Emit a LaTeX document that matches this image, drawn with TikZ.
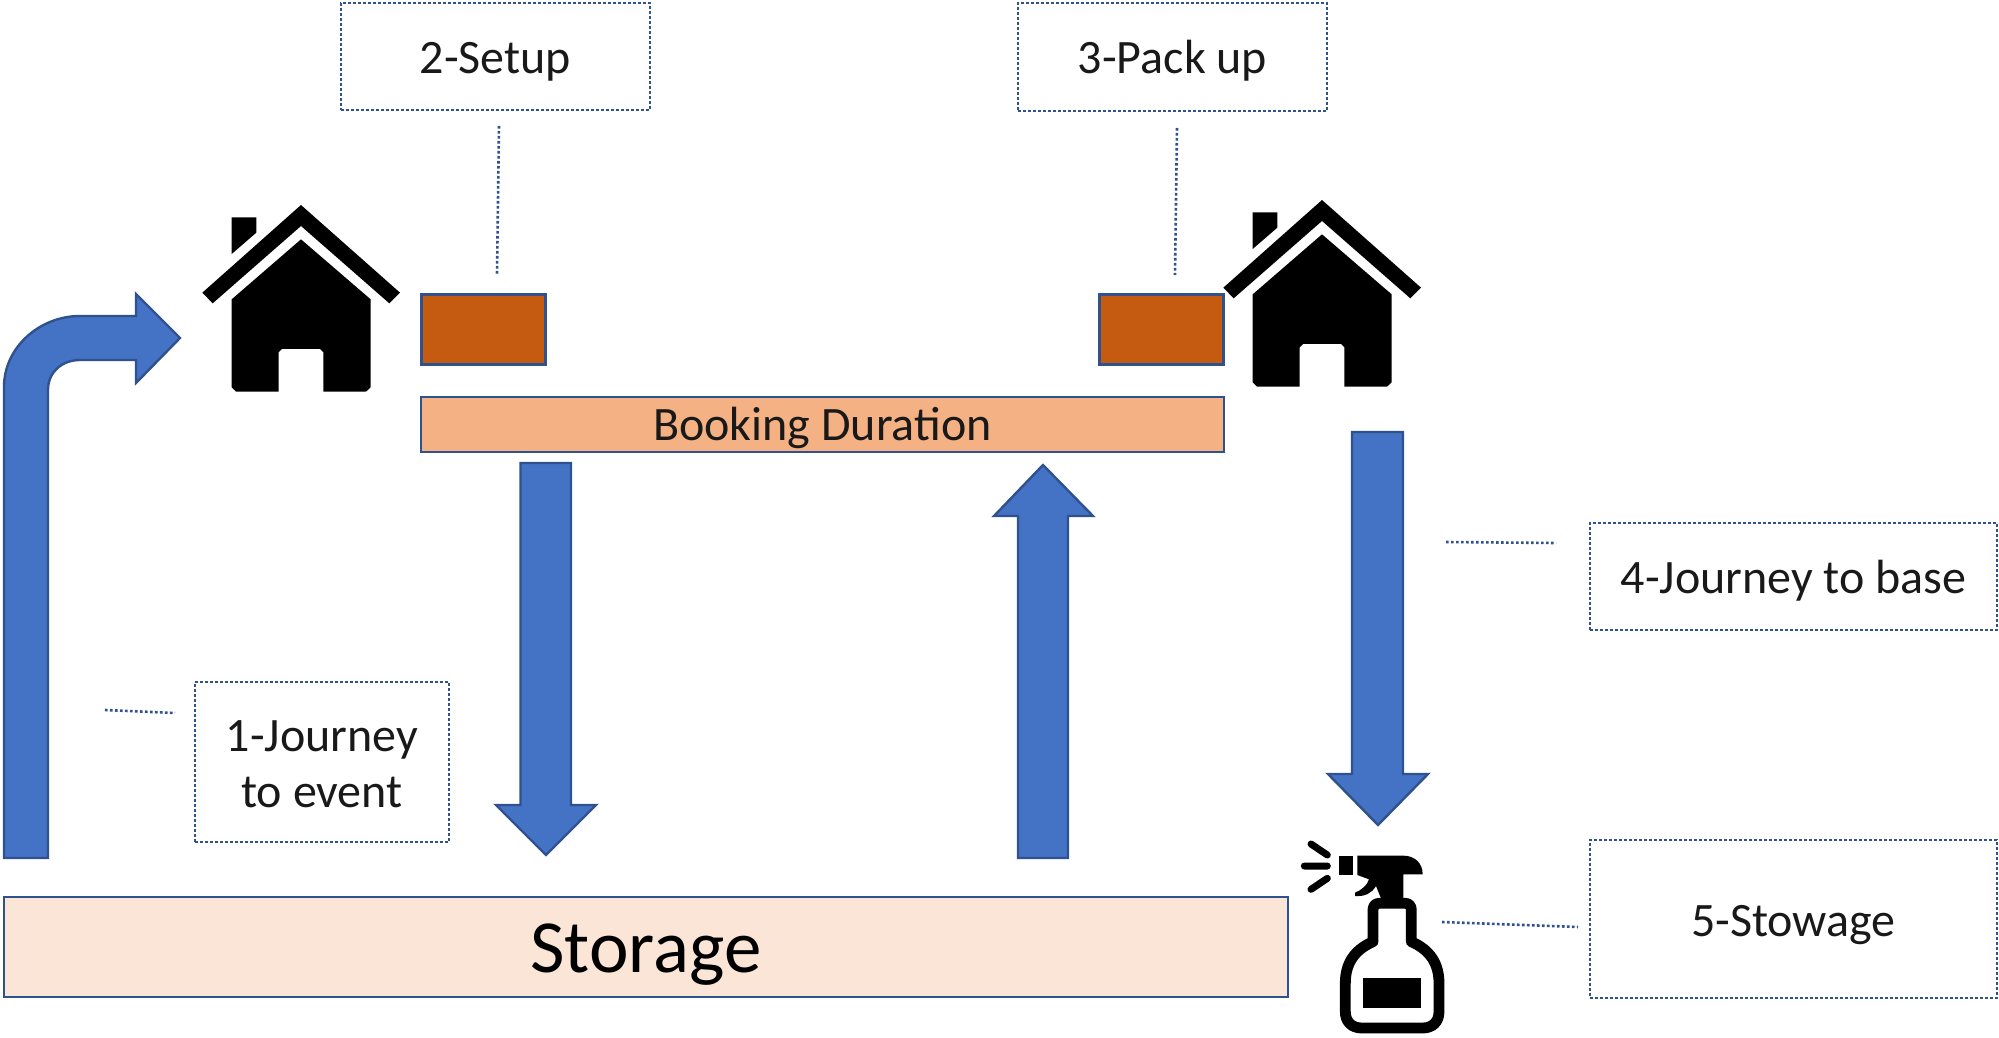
\documentclass[tikz,border=0pt]{standalone}
\usepackage{fontspec}
\setmainfont{Carlito}
\definecolor{arrowfill}{HTML}{4472C4}
\definecolor{edgeblue}{HTML}{2F528F}
\definecolor{darkorange}{HTML}{C55A11}
\definecolor{midorange}{HTML}{F4B183}
\definecolor{lightorange}{HTML}{FBE5D6}
\tikzset{
  px/.style={x=0.5pt,y=-0.5pt},
  labelbox/.style={draw=edgeblue,line width=1.3pt,dash pattern=on 1.3pt off 1.2pt,inner sep=0pt,align=center,font=\fontsize{24}{28}\selectfont,text=black!90},
  oneline/.style={text height=17pt,text depth=0pt},
  leader/.style={draw=edgeblue,line width=1.3pt,dash pattern=on 1.3pt off 1.2pt},
  solidbar/.style={draw=edgeblue,line width=1.3pt,inner sep=0pt,text=black!90},
  blockarrow/.style={fill=arrowfill,draw=edgeblue,line width=1.2pt,line join=miter},
  house/.pic={
    \fill[black,scale=1/3,line join=round] (363,75) -- (660,338) -- (628,370) -- (363,138) -- (98,370) -- (67,338) -- cycle;
    \fill[black,scale=1/3] (155,112) -- (229,112) -- (229,158) -- (155,222) -- cycle;
    \fill[black,scale=1/3] (363,178) -- (572,358) -- (572,622) -- (558,635) -- (430,635) -- (430,517) -- (420,507) -- (306,507) -- (296,517) -- (296,635) -- (168,635) -- (155,622) -- (155,358) -- cycle;
  },
  spraybottle/.pic={
    \begin{scope}[scale=1/3]
    \draw[black,line width=3.5pt,line cap=round] (123,72) -- (172,105) (103,138) -- (172,138) (123,208) -- (172,175);
    \fill[black] (208,107) rectangle (250,165);
    \fill[black] (262,107) -- (400,107) .. controls (435,107) and (458,130) .. (458,163) -- (400,163) -- (400,240) -- (335,240) -- (318,198) .. controls (305,220) and (285,230) .. (255,228) -- (255,218) .. controls (275,210) and (292,195) .. (297,178) -- (262,165) -- cycle;
    \draw[black,line width=5.4pt,line join=round] (309,365) -- (309,270) .. controls (309,258) and (316,250) .. (327,250) -- (406,250) .. controls (417,250) and (424,258) .. (424,270) -- (424,365) .. controls (480,390) and (507,430) .. (507,490) -- (507,575) .. controls (507,605) and (488,624) .. (458,624) -- (275,624) .. controls (245,624) and (226,605) .. (226,575) -- (226,490) .. controls (226,430) and (253,390) .. (309,365) -- cycle;
    \fill[black] (280,473) rectangle (453,565);
    \end{scope}
  }
}
\begin{document}
\begin{tikzpicture}[px]
\useasboundingbox (0,0) rectangle (1999,1038);

% block arrows
\draw[blockarrow] (4,858) -- (4,387) .. controls (4,347) and (40,316) .. (80,316) -- (136,316) -- (136,294) -- (180,338) -- (136,383) -- (136,360) -- (80,360) .. controls (62,360) and (48,372) .. (48,390) -- (48,858) -- cycle;
\draw[blockarrow] (520.5,463) -- (571,463) -- (571,805) -- (596,805) -- (546,855) -- (496,805) -- (520.5,805) -- cycle;
\draw[blockarrow] (1018,858) -- (1018,516) -- (994,516) -- (1043,465) -- (1093,516) -- (1068,516) -- (1068,858) -- cycle;
\draw[blockarrow] (1352,432) -- (1403,432) -- (1403,774) -- (1428,774) -- (1378,825) -- (1328,774) -- (1352,774) -- cycle;

% bars
\node[solidbar,fill=lightorange,minimum width=642pt,minimum height=50pt,font=\fontsize{37.5}{40}\selectfont,text=black,text height=25pt,text depth=0pt] (storage) at (646,947) {Storage};
\node[solidbar,fill=midorange,minimum width=401.5pt,minimum height=27.5pt,font=\fontsize{24}{28}\selectfont,text height=16pt,text depth=0pt] (booking) at (822.5,424.5) {Booking Duration};
\node[solidbar,fill=darkorange,minimum width=62pt,minimum height=35pt] (setupbar) at (483.5,329.5) {};
\node[solidbar,fill=darkorange,minimum width=62pt,minimum height=35pt] (packbar) at (1161.5,329.5) {};

% label boxes
\node[labelbox,oneline,minimum width=154.5pt,minimum height=53.5pt] (setup) at (495.5,56.5) {2-Setup};
\node[labelbox,oneline,minimum width=154.5pt,minimum height=54pt] (pack) at (1172.5,57) {3-Pack up};
\node[labelbox,oneline,minimum width=203.5pt,minimum height=53.5pt] (base) at (1793.5,576.5) {4-Journey to base};
\node[labelbox,oneline,minimum width=203.5pt,minimum height=79pt] (stow) at (1793.5,919) {5-Stowage};
\node[labelbox,minimum width=127pt,minimum height=80pt] (event) at (322,762) {\rule{0pt}{17.5pt}1-Journey\\to event};

% leaders
\coordinate (setupA) at (499,126);
\coordinate (setupB) at (497,275);
\coordinate (packA) at (1177,128);
\coordinate (packB) at (1175,275);
\coordinate (baseA) at (1446,542);
\coordinate (baseB) at (1556,543);
\coordinate (eventA) at (105,710);
\coordinate (eventB) at (175,713);
\coordinate (stowA) at (1442,922);
\coordinate (stowB) at (1578,927);
\draw[leader] (setupA) -- (setupB);
\draw[leader] (packA) -- (packB);
\draw[leader] (baseA) -- (baseB);
\draw[leader] (eventA) -- (eventB);
\draw[leader] (stowA) -- (stowB);

% icons
\pic at (180,180) {house};
\pic at (1201,175) {house};
\pic at (1270,820) {spraybottle};
\end{tikzpicture}
\end{document}
